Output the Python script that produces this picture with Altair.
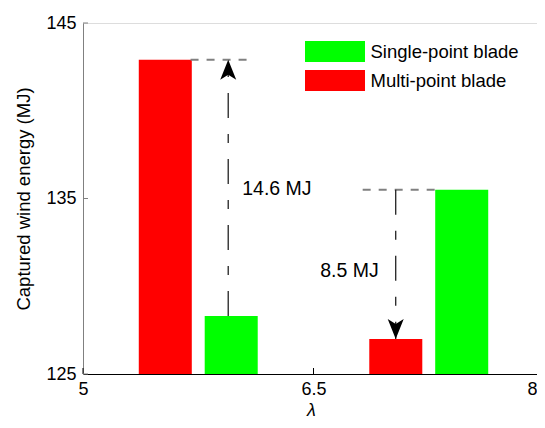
import altair as alt
import pandas as pd

# ---- data ----
lam = [5.75, 7.25]                      # group centres (lambda)
single = [128.3, 135.5]                 # Single-point blade (MJ)
multi = [142.9, 127.0]                  # Multi-point blade (MJ)
series = ["Single-point blade", "Multi-point blade"]
colors = ["#00ff00", "#ff0000"]
x_ticks = [5, 6.5, 8]
y_ticks = [125, 135, 145]
base_val = 125

# annotation guides
arrow_x = [5.945, 7.035]
ref_x1 = [5.70, 6.82]
ref_x2 = [6.09, 7.29]

bar_w = 0.345
gap = 0.042

rows = []
for i, l in enumerate(lam):
    rows.append(dict(series=series[1], value=multi[i], left=l - gap - bar_w, right=l - gap, base=base_val))
    rows.append(dict(series=series[0], value=single[i], left=l + gap, right=l + gap + bar_w, base=base_val))
bars_df = pd.DataFrame(rows)

ann_rows = []
for i in range(len(lam)):
    ann_rows.append(dict(
        ax=arrow_x[i], tail=single[i], tip=multi[i],
        mid=(single[i] + multi[i]) / 2,
        dir="up" if multi[i] > single[i] else "down",
        label=f"{abs(multi[i] - single[i]):.1f} MJ",
        rx1=ref_x1[i], rx2=ref_x2[i], ry=max(single[i], multi[i]),
        idx=i,
    ))
ann_df = pd.DataFrame(ann_rows)

FONT = "Liberation Sans"
PLOT_W = 454      # visible plot width (page edge)
RANGE_W = 461     # full axis length (runs past the page edge like the reference)
xs = alt.Scale(domain=[5, 8], nice=False, zero=False, range=[0, RANGE_W])
ys = alt.Scale(domain=[125, 145], nice=False, zero=False)
xaxis = alt.Axis(values=x_ticks, labelExpr="'' + datum.value", title="λ", grid=False, ticks=False,
                 domainColor="black", domainWidth=1, labelFontSize=18, labelPadding=6,
                 labelFlush=False, labelOverlap=False, labelColor="black", labelFont=FONT,
                 labelOffset={"condition": {"test": "datum.value == 8", "value": -12}, "value": 0},
                 titleFont=FONT, titleFontSize=18, titleFontStyle="italic",
                 titleFontWeight="normal", titleColor="black", titlePadding=3,
                 titleX=228)
yaxis = alt.Axis(values=y_ticks, title="Captured wind energy (MJ)", grid=False, ticks=False,
                 domainColor="#808080", domainWidth=1, labelFontSize=18, labelPadding=7,
                 labelFlush=False, labelOverlap=False, labelColor="black", labelFont=FONT,
                 titleFont=FONT, titleFontSize=18.5, titleFontWeight="normal",
                 titleColor="black", titlePadding=12)

rect_path = "M-2.857,-1 L2.857,-1 L2.857,1 L-2.857,1 Z"
arrow_up = "M0,0 L0.8,2 L0,1.5 L-0.8,2 Z"
arrow_down = "M0,0 L0.8,-2 L0,-1.5 L-0.8,-2 Z"

bars = alt.Chart(bars_df).mark_rect().encode(
    x=alt.X("left:Q", scale=xs, axis=xaxis),
    x2="right:Q",
    y=alt.Y("base:Q", scale=ys, axis=yaxis),
    y2="value:Q",
    color=alt.Color("series:N", scale=alt.Scale(domain=series, range=colors),
                    legend=alt.Legend(title=None, orient="none", legendX=241.5, legendY=18,
                                      symbolType=rect_path, symbolSize=441,
                                      symbolStrokeWidth=0, symbolOpacity=1,
                                      labelOffset=25, labelFontSize=18.5, labelFont=FONT,
                                      labelColor="black", rowPadding=8, padding=0)),
)

hrefs = alt.Chart(ann_df).mark_rule(color="#808080", strokeWidth=2, strokeDash=[8, 8]).encode(
    x=alt.X("rx1:Q", scale=xs, axis=xaxis),
    x2="rx2:Q",
    y=alt.Y("ry:Q", scale=ys, axis=yaxis),
)

vlines = alt.Chart(ann_df).mark_rule(color="#222222", strokeWidth=1.3,
                                     strokeDash=[25, 16, 9, 16]).encode(
    x=alt.X("ax:Q", scale=xs, axis=xaxis),
    y=alt.Y("tail:Q", scale=ys, axis=yaxis),
    y2="tip:Q",
)

arrows = alt.Chart(ann_df).mark_point(filled=True, size=400, color="black", opacity=1,
                                      strokeWidth=0).encode(
    x=alt.X("ax:Q", scale=xs, axis=xaxis),
    y=alt.Y("tip:Q", scale=ys, axis=yaxis),
    shape=alt.Shape("dir:N", scale=alt.Scale(domain=["up", "down"], range=[arrow_up, arrow_down]),
                    legend=None),
)

txt_left = alt.Chart(ann_df).transform_filter("datum.idx == 0").mark_text(
    align="left", baseline="middle", dx=14, dy=1, fontSize=19.5, font=FONT, color="black").encode(
    x=alt.X("ax:Q", scale=xs, axis=xaxis),
    y=alt.Y("mid:Q", scale=ys, axis=yaxis),
    text="label:N",
)
txt_right = alt.Chart(ann_df).transform_filter("datum.idx == 1").mark_text(
    align="right", baseline="middle", dx=-17, dy=7, fontSize=19.5, font=FONT, color="black").encode(
    x=alt.X("ax:Q", scale=xs, axis=xaxis),
    y=alt.Y("mid:Q", scale=ys, axis=yaxis),
    text="label:N",
)

xt_df = pd.DataFrame({"t": x_ticks})
yt_df = pd.DataFrame({"t": y_ticks})
xticks = alt.Chart(xt_df).mark_rule(color="black", strokeWidth=1).encode(
    x=alt.X("t:Q", scale=xs, axis=xaxis), y=alt.value(351), y2=alt.value(345))
yticks = alt.Chart(yt_df).mark_rule(color="#808080", strokeWidth=1).encode(
    y=alt.Y("t:Q", scale=ys, axis=yaxis), x=alt.value(0), x2=alt.value(5))

chart = alt.layer(bars, hrefs, vlines, arrows, txt_left, txt_right, xticks, yticks).properties(
    width=PLOT_W, height=351,
    autosize=alt.AutoSizeParams(type="none"),
    padding={"left": 75, "top": 15, "right": 0, "bottom": 46},
).configure_view(stroke=None).configure(font=FONT)

chart.save("out.html", embed_options={"renderer": "svg", "actions": False})
